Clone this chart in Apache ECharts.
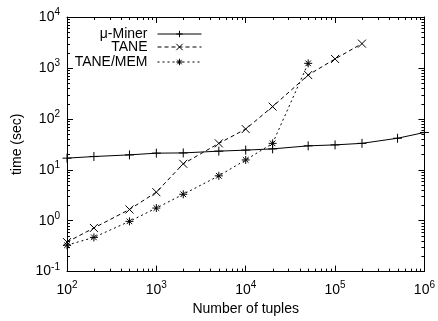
<!DOCTYPE html>
<html>
<head>
<meta charset="utf-8">
<script src="https://cdn.jsdelivr.net/npm/echarts@6/dist/echarts.min.js"></script>
<style>
  html, body { margin: 0; padding: 0; background: #fff; }
  #chart { width: 438px; height: 321px; }
</style>
</head>
<body>
<div id="chart"></div>
<script>
// data (log-log)
var minerTuples = [100, 200, 500, 1000, 2000, 5000, 10000, 20000, 50000, 100000, 200000, 500000, 1000000];
var minerTime = [16.9, 18.2, 19.6, 21.2, 21.4, 23.2, 24.3, 25.7, 29.5, 30.8, 33, 41.6, 54];

var taneTuples = [100, 200, 500, 1000, 2000, 5000, 10000, 20000, 50000, 100000, 200000];
var taneTime = [0.38, 0.72, 1.66, 3.63, 13.1, 33, 63, 174, 725, 1500, 3000];

var memTuples = [100, 200, 500, 1000, 2000, 5000, 10000, 20000, 50000];
var memTime = [0.33, 0.47, 0.97, 1.77, 3.3, 7.6, 15.6, 33, 1230];

var xExponents = [2, 3, 4, 5, 6];
var yExponents = [-1, 0, 1, 2, 3, 4];

var FONT = '"Liberation Sans", Arial, sans-serif';

function pairs(xs, ys) {
  return xs.map(function (x, i) { return [x, ys[i]]; });
}

function powLabel(exps) {
  return function (v) {
    var e = Math.round(Math.log10(v));
    if (exps.indexOf(e) < 0) return '';
    return '{b|10}{s|' + e + '}';
  };
}

var richLabel = {
  b: { fontSize: 14, fontFamily: FONT, color: '#000' },
  s: { fontSize: 10, fontFamily: FONT, color: '#000', padding: [0, 0, 9, 0] }
};

var chartDom = document.getElementById('chart');
var myChart = echarts.init(chartDom, null, { renderer: 'canvas' });

var PLUS = 'path://M0,5L10,5M5,0L5,10';
var CROSS = 'path://M0,0L10,10M10,0L0,10';
var STAR = 'path://M0,5L10,5M5,0L5,10M1.5,1.5L8.5,8.5M8.5,1.5L1.5,8.5';

var axisLine = { show: true, lineStyle: { color: '#000', width: 1 } };
var majorTick = { show: true, inside: true, length: 6, lineStyle: { color: '#000' } };

function legendFor(name, top) {
  return {
    data: [name],
    right: 236,
    top: top,
    align: 'right',
    orient: 'vertical',
    padding: 0,
    itemWidth: 44,
    itemHeight: 8,
    selectedMode: false,
    lineStyle: { width: 1 },
    itemStyle: { borderWidth: 1 },
    textStyle: { fontSize: 14, fontFamily: FONT, color: '#000', padding: [0, 5, 0, 0] }
  };
}

var option = {
  animation: false,
  backgroundColor: '#fff',
  grid: { left: 67, right: 13, top: 17, bottom: 48 },
  legend: [
    legendFor('\u03bc-Miner', 27),
    legendFor('TANE', 40),
    legendFor('TANE/MEM', 55)
  ],
  xAxis: [
    {
      type: 'log', logBase: 10, min: 100, max: 1000000, interval: 1,
      name: 'Number of tuples', nameLocation: 'middle', nameGap: 26,
      nameTextStyle: { fontSize: 14, fontFamily: FONT, color: '#000' },
      axisLine: axisLine, axisTick: majorTick, splitLine: { show: false },
      axisLabel: { formatter: powLabel(xExponents), rich: richLabel, margin: 9 }
    },
    {
      type: 'log', logBase: 10, min: 100, max: 1000000, interval: 1, position: 'top',
      axisLine: axisLine, axisTick: majorTick, splitLine: { show: false },
      axisLabel: { show: false }
    }
  ],
  yAxis: [
    {
      type: 'log', logBase: 10, min: 0.1, max: 10000, interval: 1,
      name: 'time (sec)', nameLocation: 'middle', nameGap: 43,
      nameTextStyle: { fontSize: 14, fontFamily: FONT, color: '#000' },
      axisLine: axisLine, axisTick: majorTick, splitLine: { show: false },
      axisLabel: { formatter: powLabel(yExponents), rich: richLabel, margin: 7 }
    },
    {
      type: 'log', logBase: 10, min: 0.1, max: 10000, interval: 1, position: 'right',
      axisLine: axisLine, axisTick: majorTick, splitLine: { show: false },
      axisLabel: { show: false }
    }
  ],
  series: [
    {
      name: '\u03bc-Miner', type: 'line', data: pairs(minerTuples, minerTime),
      symbol: PLUS, symbolSize: 9, showSymbol: true,
      lineStyle: { color: '#000', width: 1, type: 'solid' },
      itemStyle: { color: '#000', borderColor: '#000', borderWidth: 1 }
    },
    {
      name: 'TANE', type: 'line', data: pairs(taneTuples, taneTime),
      symbol: CROSS, symbolSize: 8,
      lineStyle: { color: '#000', width: 1, type: [4, 3] },
      itemStyle: { color: '#000', borderColor: '#000', borderWidth: 1 }
    },
    {
      name: 'TANE/MEM', type: 'line', data: pairs(memTuples, memTime),
      symbol: STAR, symbolSize: 8,
      lineStyle: { color: '#000', width: 1, type: [2, 3] },
      itemStyle: { color: '#000', borderColor: '#000', borderWidth: 1 }
    }
  ]
};

option && myChart.setOption(option);

// gnuplot-style minor ticks (2..9 in each decade), placed via the axis scales
var ticks = [];
var area = myChart.getModel().getComponent('grid', 0).coordinateSystem.getRect();
function tickLine(x1, y1, x2, y2) {
  ticks.push({
    type: 'line', silent: true,
    shape: { x1: x1, y1: y1, x2: x2, y2: y2 },
    style: { stroke: '#000', lineWidth: 1 }
  });
}
for (var d = 2; d < 6; d++) {
  for (var k = 2; k <= 9; k++) {
    var px = Math.round(myChart.convertToPixel({ xAxisIndex: 0 }, k * Math.pow(10, d))) + 0.5;
    tickLine(px, area.y + area.height, px, area.y + area.height - 3);
    tickLine(px, area.y, px, area.y + 3);
  }
}
for (var e = -1; e < 4; e++) {
  for (var k2 = 2; k2 <= 9; k2++) {
    var py = Math.round(myChart.convertToPixel({ yAxisIndex: 0 }, k2 * Math.pow(10, e))) + 0.5;
    tickLine(area.x, py, area.x + 3, py);
    tickLine(area.x + area.width, py, area.x + area.width - 3, py);
  }
}
myChart.setOption({ graphic: ticks });
</script>
</body>
</html>
